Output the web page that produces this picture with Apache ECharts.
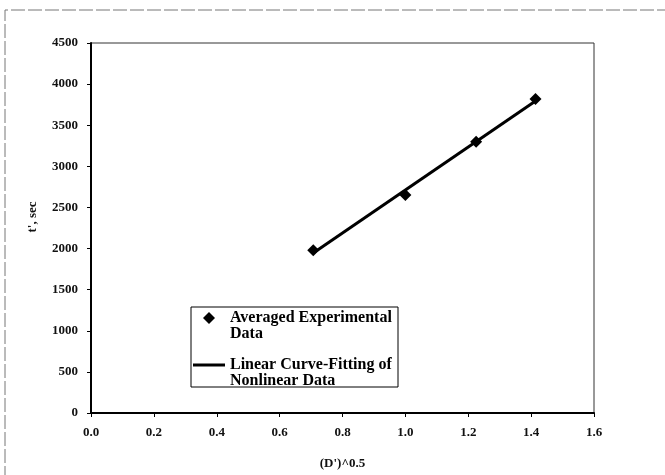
<!DOCTYPE html>
<html>
<head>
<meta charset="utf-8">
<script src="https://cdn.jsdelivr.net/npm/echarts@6/dist/echarts.min.js"></script>
<style>html,body{margin:0;padding:0;background:#fff}#c{width:665px;height:475px}</style>
</head>
<body>
<div id="c"></div>
<script>
// Averaged experimental data
const expX = [0.707, 1.0, 1.225, 1.414];
const expY = [1980, 2650, 3300, 3820];
// Linear curve-fit line (end points)
const fitX = [0.707, 1.414];
const fitY = [1945, 3795];
// Axis ticks
const xTicks = [0.0, 0.2, 0.4, 0.6, 0.8, 1.0, 1.2, 1.4, 1.6];
const yTicks = [0, 500, 1000, 1500, 2000, 2500, 3000, 3500, 4000, 4500];
// Legend text lines
const legendLines = [["Averaged Experimental", "Data"], ["Linear Curve-Fitting of", "Nonlinear Data"]];
const seriesNames = legendLines.map(l => l.join(' '));

const serif = '"Liberation Serif","Times New Roman",serif';
const chart = echarts.init(document.getElementById('c'), null, {renderer: 'canvas'});
const option = {
  animation: false,
  backgroundColor: '#fff',
  grid: {left: 91, top: 43, right: 71, bottom: 62, show: true, borderColor: '#333', borderWidth: 1, backgroundColor: 'transparent'},
  xAxis: {
    type: 'value', min: xTicks[0], max: xTicks[xTicks.length - 1], interval: 0.2,
    name: "(D')^0.5", nameLocation: 'middle', nameGap: 44,
    nameTextStyle: {fontFamily: serif, fontWeight: 'bold', fontSize: 13, color: '#111'},
    axisLine: {lineStyle: {color: '#000', width: 2}},
    axisTick: {show: true, length: 4, lineStyle: {color: '#000'}},
    axisLabel: {margin: 13, fontFamily: serif, fontWeight: 'bold', fontSize: 13, color: '#111', formatter: v => v.toFixed(1)},
    splitLine: {show: false}
  },
  yAxis: {
    type: 'value', min: yTicks[0], max: yTicks[yTicks.length - 1], interval: 500,
    name: "t', sec", nameLocation: 'middle', nameGap: 52, nameRotate: 90,
    nameTextStyle: {fontFamily: serif, fontWeight: 'bold', fontSize: 13, color: '#111', padding: [0, 0, 0, 22]},
    axisLine: {show: true, lineStyle: {color: '#000', width: 2}},
    axisTick: {show: true, length: 4, lineStyle: {color: '#000'}},
    axisLabel: {margin: 13, fontFamily: serif, fontWeight: 'bold', fontSize: 13, color: '#111', formatter: v => String(v)},
    splitLine: {show: false}
  },
  legend: {
    orient: 'vertical', left: 193, top: 294, padding: 0, itemGap: -1,
    itemWidth: 32, itemHeight: 12, z: 10, symbolKeepAspect: true,
    data: [
      {name: seriesNames[0], icon: 'path://M6,0L12,6L6,12L0,6Z', itemStyle: {color: '#000', opacity: 1}},
      {name: seriesNames[1], icon: 'path://M0,0L32,0L32,3L0,3Z', itemStyle: {color: '#000', opacity: 1}}
    ],
    formatter: name => {
      const l = legendLines[seriesNames.indexOf(name)];
      return '{e| }\n{t|' + l[0] + '}\n{t|' + l[1] + '}';
    },
    textStyle: {
      fontFamily: serif, fontWeight: 'bold', fontSize: 16, color: '#000',
      rich: {
        e: {fontSize: 16, lineHeight: 16},
        t: {fontFamily: serif, fontWeight: 'bold', fontSize: 16, lineHeight: 16, color: '#000'}
      }
    }
  },
  graphic: [
    {type: 'rect', z: 5, shape: {x: 191, y: 307, width: 207, height: 80}, style: {fill: '#fff', stroke: '#000', lineWidth: 1}},
    {type: 'polyline', z: 1, shape: {points: [[5, 480], [5, 10], [670, 10]]}, style: {stroke: '#777', fill: null, lineWidth: 1, lineDash: [14, 3]}}
  ],
  series: [
    {
      name: seriesNames[0], type: 'scatter', symbol: 'diamond', symbolSize: 12,
      itemStyle: {color: '#000', opacity: 1}, z: 3,
      data: expX.map((x, i) => [x, expY[i]])
    },
    {
      name: seriesNames[1], type: 'line', symbol: 'none',
      lineStyle: {color: '#000', width: 3}, itemStyle: {color: '#000'}, z: 2,
      data: fitX.map((x, i) => [x, fitY[i]])
    }
  ]
};
chart.setOption(option);
</script>
</body>
</html>
